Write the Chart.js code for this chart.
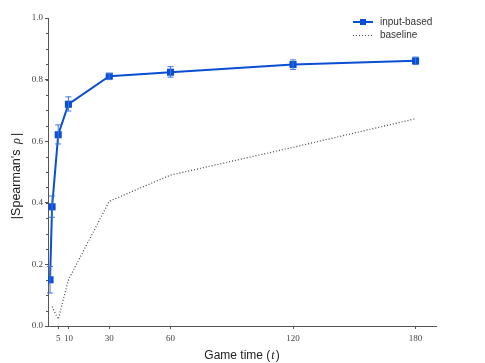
<!DOCTYPE html>
<html>
<head>
<meta charset="utf-8">
<script src="https://cdn.jsdelivr.net/npm/chart.js@4.4.1/dist/chart.umd.min.js"></script>
<style>
  html, body { margin: 0; padding: 0; background: #fff; }
  #wrap { width: 485px; height: 363px; }
</style>
</head>
<body>
<div id="wrap"><canvas id="chart" width="485" height="363"></canvas></div>
<script>
// game time (t) for each measurement
const times = [1, 2, 5, 10, 30, 60, 120, 180];
const inputBased = [0.150, 0.387, 0.621, 0.720, 0.811, 0.824, 0.849, 0.861];
const errLow = [0.107, 0.353, 0.591, 0.698, 0.800, 0.808, 0.833, 0.849];
const errHigh = [0.193, 0.422, 0.653, 0.744, 0.820, 0.842, 0.864, 0.873];

const baselineTimes = [2, 5, 10, 30, 60, 120, 180];
const baseline = [0.063, 0.022, 0.150, 0.405, 0.490, 0.580, 0.673];

const xTicks = [5, 10, 30, 60, 120, 180];
const yTicks = [0, 0.2, 0.4, 0.6, 0.8, 1.0];
const yMinorStep = 0.05;

const blue = "#0a4fd3";
const errBlue = "#3d77df";
const axisColor = "#555";

// error bars
const errorBars = {
    id: "errorBars",
    afterDatasetsDraw(chart) {
        const ctx = chart.ctx;
        const x = chart.scales.x, y = chart.scales.y;
        ctx.save();
        ctx.strokeStyle = errBlue;
        ctx.lineWidth = 1;
        for (let i = 0; i < times.length; i++) {
            const px = x.getPixelForValue(times[i]);
            const lo = y.getPixelForValue(errLow[i]);
            const hi = y.getPixelForValue(errHigh[i]);
            ctx.beginPath();
            ctx.moveTo(px, lo); ctx.lineTo(px, hi);
            ctx.moveTo(px - 3, lo); ctx.lineTo(px + 3, lo);
            ctx.moveTo(px - 3, hi); ctx.lineTo(px + 3, hi);
            ctx.stroke();
        }
        ctx.restore();
    }
};

// minor ticks, axis titles and legend
const decorations = {
    id: "decorations",
    afterDraw(chart) {
        const ctx = chart.ctx;
        const area = chart.chartArea;
        const y = chart.scales.y;
        ctx.save();

        // minor y ticks
        ctx.strokeStyle = axisColor;
        ctx.lineWidth = 1;
        for (let v = 0; v <= 1.0001; v += yMinorStep) {
            const py = Math.round(y.getPixelForValue(v)) + 0.5;
            ctx.beginPath();
            ctx.moveTo(area.left - 2, py);
            ctx.lineTo(area.left, py);
            ctx.stroke();
        }

        // x title
        ctx.fillStyle = "#222";
        ctx.textBaseline = "middle";
        const sans = "12px 'Liberation Sans', Arial, sans-serif";
        const ital = "italic 12px 'Liberation Serif', serif";
        let parts = [["Game time (", sans], ["t", ital], [")", sans]];
        let total = 0;
        parts.forEach(p => { ctx.font = p[1]; total += ctx.measureText(p[0]).width + (p[0] === "t" ? 2 : 0); });
        let cx = (area.left + area.right) / 2 - total / 2;
        parts.forEach(p => {
            ctx.font = p[1];
            if (p[0] === "t") cx += 1;
            ctx.fillText(p[0], cx, 356);
            cx += ctx.measureText(p[0]).width + (p[0] === "t" ? 1 : 0);
        });

        // y title
        const ysans = "12.5px 'Liberation Sans', Arial, sans-serif";
        const yital = "italic 12.5px 'Liberation Serif', serif";
        ctx.save();
        ctx.translate(17, (area.top + area.bottom) / 2 + 3);
        ctx.rotate(-Math.PI / 2);
        parts = [["|Spearman's ", ysans], ["\u03c1", yital], ["|", ysans]];
        total = 0;
        parts.forEach(p => { ctx.font = p[1]; total += ctx.measureText(p[0]).width + 2; });
        cx = -total / 2;
        parts.forEach(p => {
            ctx.font = p[1];
            ctx.fillText(p[0], cx, 0);
            cx += ctx.measureText(p[0]).width + 2;
        });
        ctx.restore();

        // legend
        const lx = 353, lw = 20;
        ctx.font = "10px 'Liberation Sans', Arial, sans-serif";
        ctx.strokeStyle = blue;
        ctx.lineWidth = 2;
        ctx.beginPath(); ctx.moveTo(lx, 22); ctx.lineTo(lx + lw, 22); ctx.stroke();
        ctx.fillStyle = blue;
        ctx.fillRect(lx + lw / 2 - 3, 19, 6, 6);
        ctx.fillStyle = "#333";
        ctx.fillText(chart.data.datasets[0].label, 380, 22);

        ctx.strokeStyle = "#444";
        ctx.lineWidth = 1;
        ctx.setLineDash([1, 2]);
        ctx.beginPath(); ctx.moveTo(lx, 35.5); ctx.lineTo(lx + lw, 35.5); ctx.stroke();
        ctx.setLineDash([]);
        ctx.fillText(chart.data.datasets[1].label, 380, 35);

        ctx.restore();
    }
};

const tickFont = { family: "'Liberation Serif', 'Times New Roman', serif", size: 9 };

new Chart(document.getElementById("chart"), {
    type: "line",
    data: {
        datasets: [
            {
                label: "input-based",
                data: times.map((t, i) => ({ x: t, y: inputBased[i] })),
                borderColor: blue,
                backgroundColor: blue,
                borderWidth: 2,
                pointStyle: "rect",
                pointRadius: 5,
                pointBorderWidth: 0,
                tension: 0
            },
            {
                label: "baseline",
                data: baselineTimes.map((t, i) => ({ x: t, y: baseline[i] })),
                borderColor: "#444",
                borderWidth: 1.2,
                borderDash: [1, 2],
                pointRadius: 0,
                tension: 0
            }
        ]
    },
    options: {
        responsive: false,
        animation: false,
        layout: { padding: { top: 18, right: 49, left: 0, bottom: 0 } },
        plugins: { legend: { display: false }, tooltip: { enabled: false } },
        scales: {
            x: {
                type: "linear",
                min: 0,
                max: 190,
                afterBuildTicks: scale => { scale.ticks = xTicks.map(v => ({ value: v })); },
                afterFit: scale => { scale.height = 37; },
                grid: { drawOnChartArea: false, drawTicks: true, tickLength: 3, color: axisColor },
                border: { display: true, color: axisColor, width: 1 },
                ticks: { font: tickFont, color: "#444", padding: 4, maxRotation: 0, autoSkip: false }
            },
            y: {
                min: 0,
                max: 1,
                afterBuildTicks: scale => { scale.ticks = yTicks.map(v => ({ value: v })); },
                afterFit: scale => { scale.width = 48; },
                grid: { drawOnChartArea: false, drawTicks: true, tickLength: 3, color: axisColor },
                border: { display: true, color: axisColor, width: 1 },
                ticks: { font: tickFont, color: "#444", padding: 2, callback: v => v.toFixed(1) }
            }
        }
    },
    plugins: [errorBars, decorations]
});
</script>
</body>
</html>
